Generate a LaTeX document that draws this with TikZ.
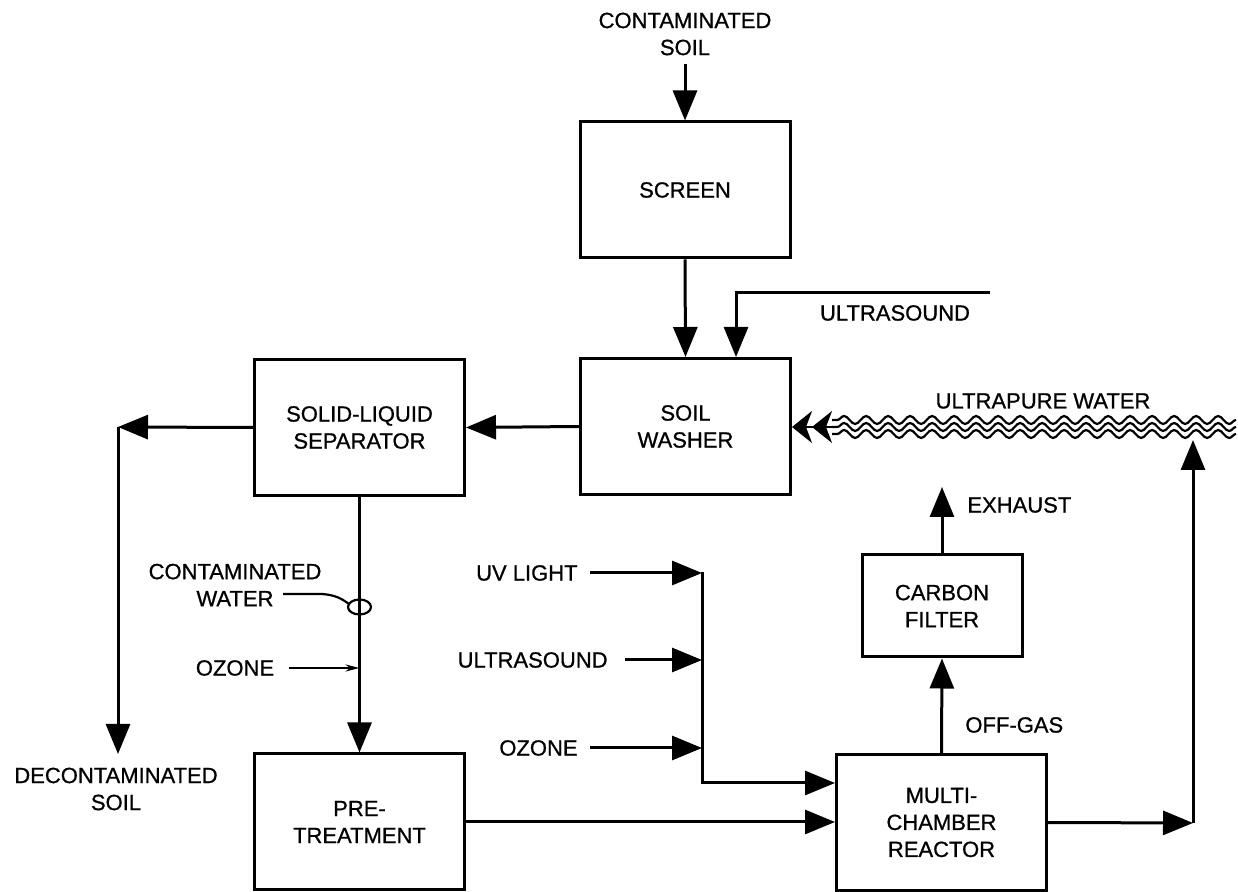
\documentclass[tikz,border=0pt]{standalone}
\usepackage{fontspec}
\setmainfont{Liberation Sans}[RawFeature={embolden=0.8}]
\usetikzlibrary{arrows.meta, decorations.pathmorphing}

\tikzset{
  unit/.style={draw, line width=1.5pt, minimum width=105pt, minimum height=68pt,
    align=center, inner sep=0pt},
  tag/.style={align=center, inner sep=0pt},
  flow/.style={line width=1.5pt, -{Triangle[length=15pt,width=12pt]}},
  thinflow/.style={line width=1pt, -{Stealth[length=7pt,width=3.5pt]}},
  leader/.style={line width=1.1pt},
  wave/.style={line width=1.1pt, decorate,
    decoration={snake, segment length=11pt, amplitude=2pt}},
}

\begin{document}
\begin{tikzpicture}[x=0.5pt, y=-0.5pt, font=\fontsize{11}{13.5}\selectfont]
    \useasboundingbox (0,0) rectangle (1238,892);

    % process units
    \node[unit] (screen) at (685,190) {SCREEN};
    \node[unit] (washer) at (685.5,426.5) {SOIL\\WASHER};
    \node[unit] (separator) at (359.5,427.5) {SOLID-LIQUID\\SEPARATOR};
    \node[unit] (pretreat) at (359.5,822) {PRE-\\TREATMENT};
    \node[unit] (reactor) at (941.5,822.5) {MULTI-\\CHAMBER\\REACTOR};
    \node[unit, minimum width=80pt, minimum height=51pt] (carbon) at (942,606) {CARBON\\FILTER};

    % stream labels
    \node[tag] (csoil) at (685,34) {CONTAMINATED\\SOIL};
    \node[tag] (usound) at (895,313) {ULTRASOUND};
    \node[tag] (upw) at (1043,401) {ULTRAPURE WATER};
    \node[tag] (dsoil) at (116,789) {DECONTAMINATED\\SOIL};
    \node[tag] (cwater) at (235,585) {CONTAMINATED\\WATER};
    \node[tag] (ozoneA) at (235,668) {OZONE};
    \node[tag, anchor=east] (uvl) at (578,573) {UV LIGHT};
    \node[tag, anchor=east] (usoundB) at (608,660) {ULTRASOUND};
    \node[tag, anchor=east] (ozoneB) at (578,748) {OZONE};
    \node[tag, anchor=west] (exh) at (967,505) {EXHAUST};
    \node[tag, anchor=west] (offgas) at (965,725) {OFF-GAS};

    % soil line
    \draw[flow] ([yshift=-4pt]csoil.south) -- (screen.north);
    \draw[flow] (screen.south) -- (washer.north);
    \coordinate (usin) at (990,293);
    \coordinate (usdrop) at (736,293);
    \draw[flow] (usin) -- (usdrop) -- (usdrop |- washer.north);
    \draw[flow] (washer.west) -- (separator.east);
    \coordinate (dcorner) at (118,427);
    \draw[flow] (separator.west) -- (dcorner);
    \draw[flow] (dcorner) -- (dcorner |- 0,754);

    % water line
    \draw[flow] (separator.south) -- (pretreat.north);
    \coordinate (cwring) at (359.5,607);
    \draw[leader] (cwring) ellipse [x radius=5.75pt, y radius=3.75pt];
    \coordinate (cwlead) at (283,594);
    \draw[leader] (cwlead) -- (322,594) .. controls (336,595) and (342,599) .. (349,604);
    \draw[thinflow] ([xshift=7pt]ozoneA.east) -- (ozoneA.east -| separator.south);

    % reactor feeds
    \coordinate (mixtop) at (702,572);
    \coordinate (mixbot) at (702,783);
    \draw[flow] ([xshift=6pt]uvl.east) -- (uvl.east -| mixtop);
    \draw[flow] ([xshift=8.5pt]usoundB.east) -- (usoundB.east -| mixtop);
    \draw[flow] ([xshift=6pt]ozoneB.east) -- (ozoneB.east -| mixtop);
    \draw[flow] (mixtop) -- (mixbot) -- (mixbot -| reactor.west);
    \draw[flow] (pretreat.east) -- (pretreat.east -| reactor.west);

    % off-gas
    \draw[flow] (reactor.north) -- (carbon.south);
    \coordinate (exhtip) at (942,487);
    \draw[flow] (carbon.north) -- (exhtip);

    % recycle to ultrapure water
    \coordinate (rcorner) at (1193,823);
    \coordinate (wavemeet) at (1193,440);
    \draw[flow] (reactor.east) -- (rcorner);
    \draw[flow] (rcorner) -- (wavemeet);

    % ultrapure water feed
    \coordinate (wavestart) at (1236,427);
    \coordinate (waveend) at (832,427);
    \foreach \dy in {-3.5,0,3.5}
        \draw[wave] ([yshift=\dy pt]wavestart) -- ([yshift=\dy pt]waveend);
    \draw[line width=1.1pt, -{Stealth[length=10pt,width=16pt,inset=3pt]Stealth[length=10pt,width=16pt,inset=3pt]}]
        (waveend) -- (waveend -| washer.east);
\end{tikzpicture}
\end{document}
